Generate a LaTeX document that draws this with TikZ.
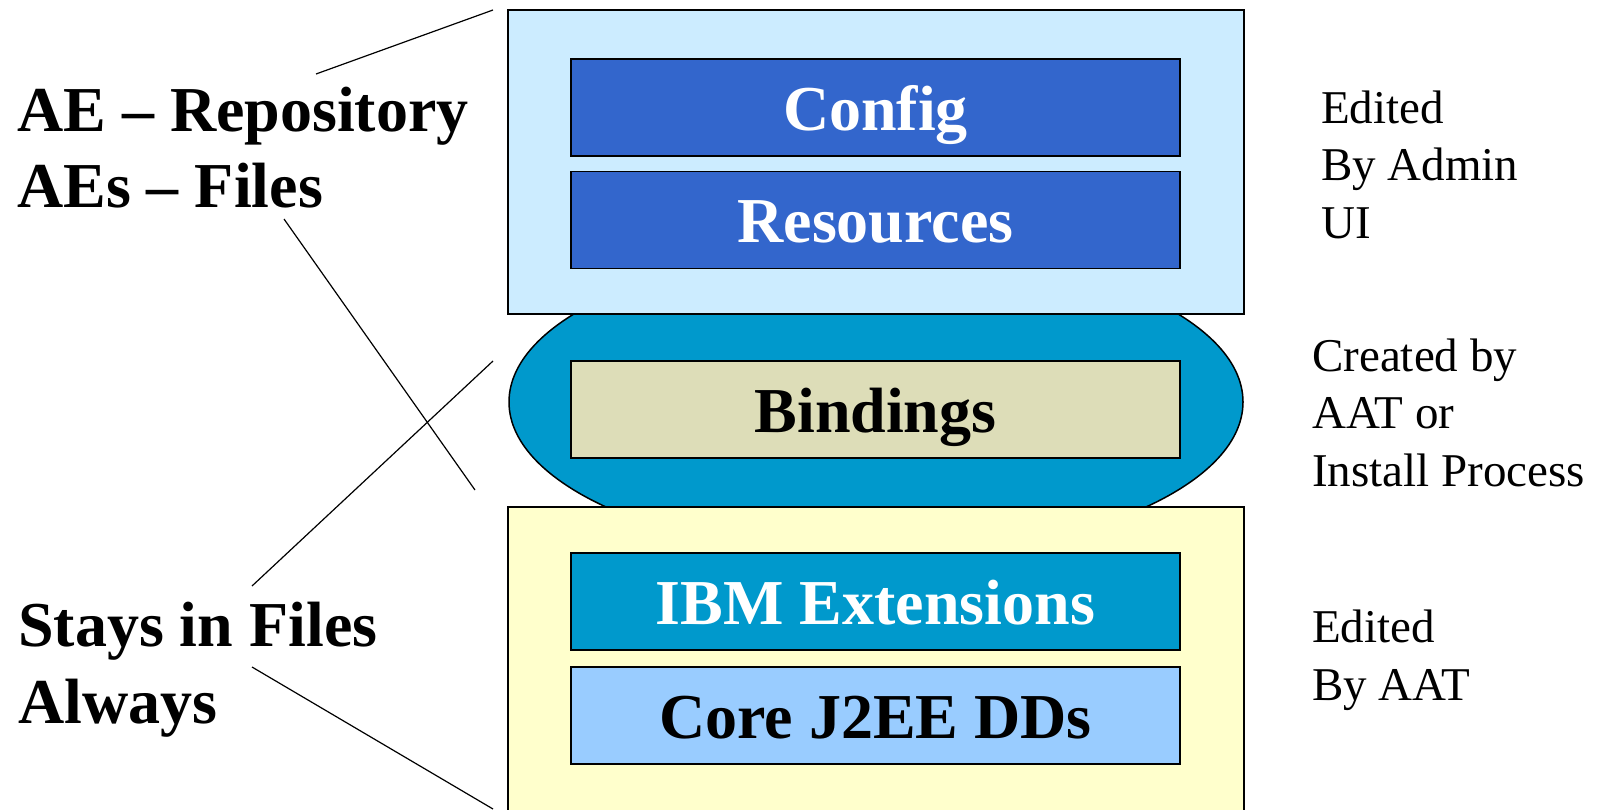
\documentclass[tikz,border=0pt]{standalone}
\usepackage{fontspec}
\setmainfont{Liberation Serif}
\usetikzlibrary{shapes.geometric}
\definecolor{topfill}{HTML}{CCECFF}
\definecolor{darkblue}{HTML}{3366CC}
\definecolor{teal}{HTML}{0099CC}
\definecolor{khaki}{HTML}{DDDDB8}
\definecolor{paleyellow}{HTML}{FFFFCC}
\definecolor{skyblue}{HTML}{99CCFF}
\begin{document}
\begin{tikzpicture}[x=1pt,y=-1pt,
  frame/.style={draw=black,line width=1.5pt,inner sep=0pt,minimum width=736pt},
  inbox/.style={draw=black,line width=1.5pt,inner sep=0pt,minimum width=609pt,minimum height=97pt,
    font=\fontsize{64}{76}\selectfont\bfseries,text height=45pt,text depth=0pt},
  lefttext/.style={anchor=base west,inner sep=0pt,align=left,font=\fontsize{64}{76.5}\selectfont\bfseries},
  righttext/.style={anchor=base west,inner sep=0pt,align=left,font=\fontsize{47}{57.5}\selectfont},
  connector/.style={draw=black,line width=1.2pt}]
\clip (0,0) rectangle (1609,809);
\fill[white] (0,0) rectangle (1609,809);
% ellipse behind
\node[ellipse,draw=black,line width=1.5pt,fill=teal,minimum width=734pt,minimum height=310pt,inner sep=0pt] (ell) at (876,402) {};
% frames
\node[frame,fill=topfill,minimum height=304pt] (top) at (876,162) {};
\node[frame,fill=paleyellow,minimum height=323pt] (bottom) at (876,668.5) {};
% inner boxes
\node[inbox,fill=darkblue,text=white] (config) at (875.5,107.5) {Config};
\node[inbox,fill=darkblue,text=white] (resources) at (875.5,220) {Resources};
\node[inbox,fill=khaki,text=black] (bindings) at (875.5,409.5) {Bindings};
\node[inbox,fill=teal,text=white] (ibm) at (875.5,601.5) {IBM Extensions};
\node[inbox,fill=skyblue,text=black] (core) at (875.5,715.5) {Core J2EE DDs};
% left labels (base anchor = baseline of last line)
\node[lefttext] (ae) at (17,207.5) {AE -- Repository\\AEs -- Files};
\node[lefttext] (stays) at (18,723) {Stays in Files\\Always};
% right labels
\node[righttext] (admin) at (1321,238) {Edited\\By Admin\\UI};
\node[righttext] (created) at (1312,486) {Created by\\AAT or\\Install Process};
\node[righttext] (aat) at (1312,700) {Edited\\By AAT};
% connector end points
\coordinate (c1a) at (316,74);
\coordinate (c1b) at (493,10);
\coordinate (c2a) at (284,219);
\coordinate (c2b) at (475,490);
\coordinate (c3a) at (252,586);
\coordinate (c3b) at (493,361);
\coordinate (c4a) at (252,667);
\coordinate (c4b) at (493,809);
\draw[connector] (c1a) -- (c1b);
\draw[connector] (c2a) -- (c2b);
\draw[connector] (c3a) -- (c3b);
\draw[connector] (c4a) -- (c4b);
\end{tikzpicture}
\end{document}
